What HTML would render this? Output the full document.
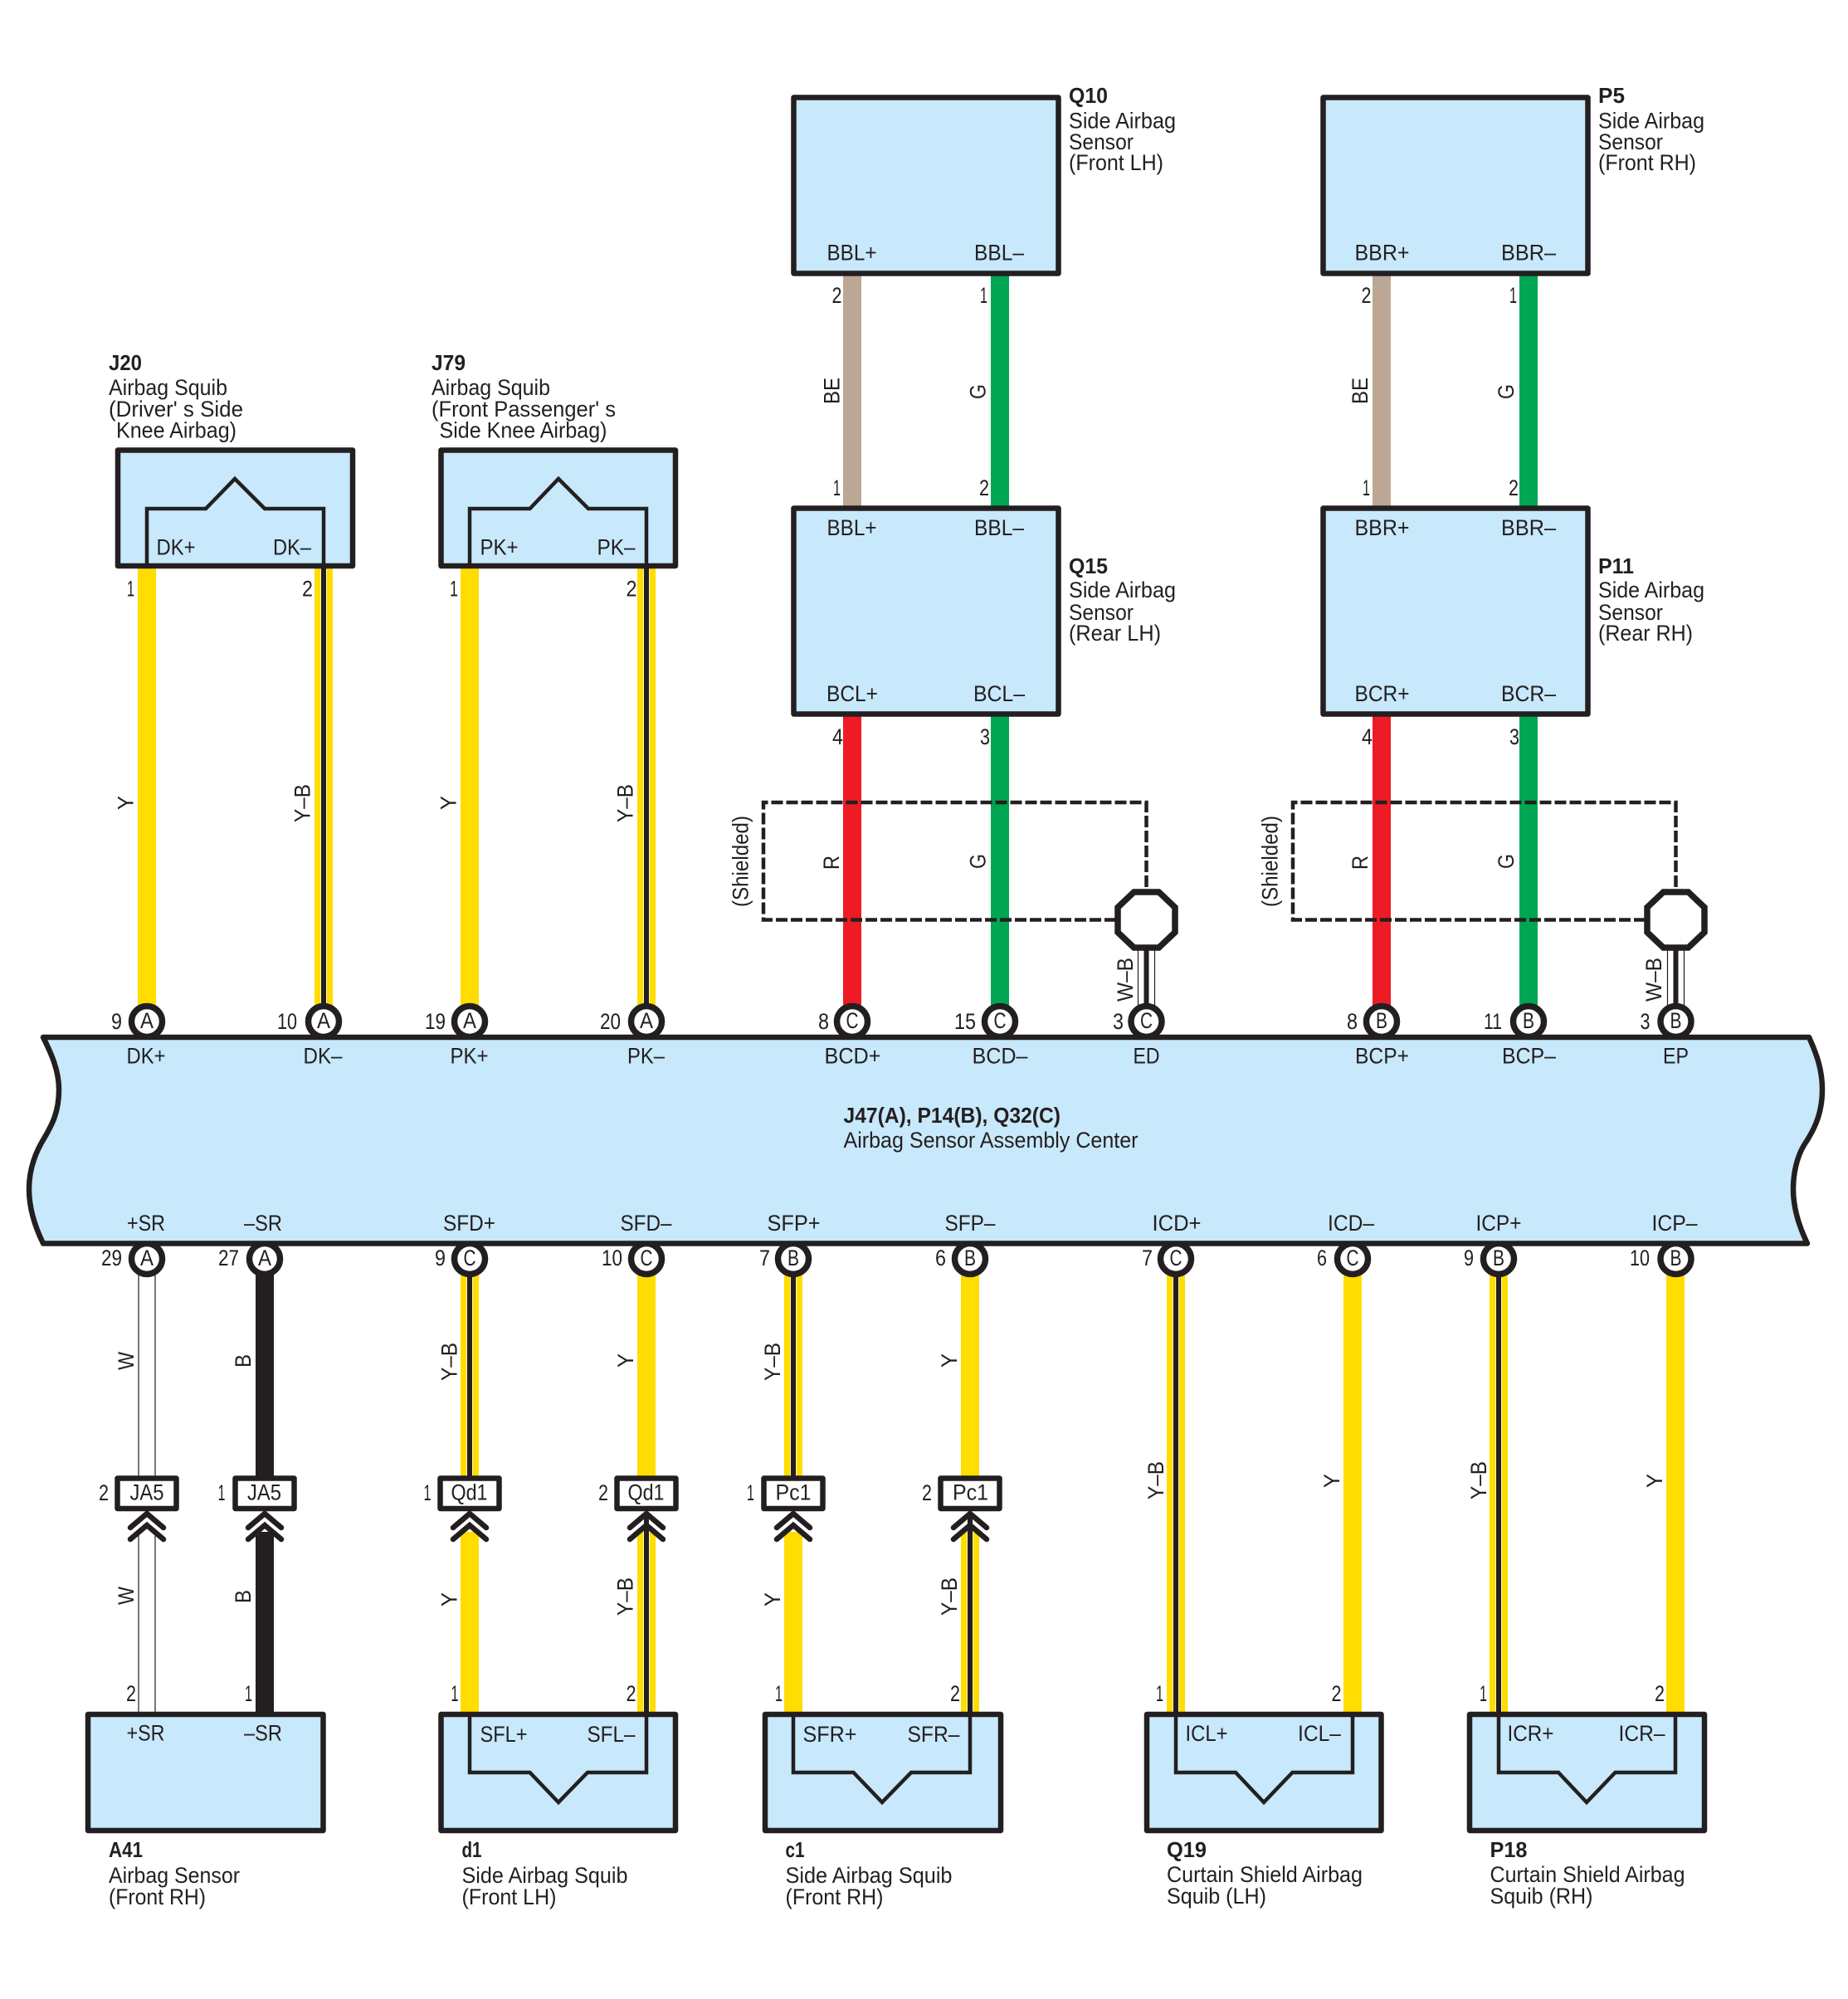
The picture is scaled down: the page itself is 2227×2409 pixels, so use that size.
<!DOCTYPE html>
<html><head><meta charset="utf-8"><title>Airbag wiring diagram</title>
<style>
html,body{margin:0;padding:0;background:#fff}
svg{display:block}
text{font-family:"Liberation Sans",sans-serif;font-size:27px;fill:#231f20}
.d{font-size:26.5px}
.b{font-size:26px;font-weight:bold}
.y{stroke:#ffdd00;stroke-width:22;fill:none}
.w{stroke:#fff;stroke-width:7.5;fill:none}
.k{stroke:#231f20;stroke-width:6;fill:none}
.kk{stroke:#231f20;stroke-width:22;fill:none}
.t{stroke:#231f20;stroke-width:1.2;fill:none}
.box{fill:#c8e8fb;stroke:#231f20;stroke-width:6.5;stroke-linejoin:round}
.in{fill:none;stroke:#231f20;stroke-width:4.5;stroke-linejoin:miter}
.c{fill:#fff;stroke:#231f20;stroke-width:7.5}
.cn{fill:#fff;stroke:#231f20;stroke-width:6.5;stroke-linejoin:round}
.ch{fill:none;stroke:#231f20;stroke-width:6.5;stroke-linecap:round;stroke-linejoin:miter}
.ds{fill:none;stroke:#231f20;stroke-width:4.5;stroke-dasharray:14 4}
</style></head><body>
<svg xmlns="http://www.w3.org/2000/svg" width="2227" height="2409" viewBox="0 0 2227 2409">
<rect width="2227" height="2409" fill="#fff"/>

<!-- upper wires -->
<path class="y" d="M177 680V1215M390 680V1215M566 680V1215M779 680V1215"/>
<path class="w" d="M390 686V1215M779 686V1215"/>
<path class="k" d="M390 680V1215M779 680V1215"/>
<path d="M1027 330V612M1665 330V612" stroke="#bba794" stroke-width="22" fill="none"/>
<path d="M1205 330V612M1842 330V612M1205 860V1215M1842 860V1215" stroke="#00a651" stroke-width="22" fill="none"/>
<path d="M1027 860V1215M1665 860V1215" stroke="#ed1c24" stroke-width="22" fill="none"/>
<!-- W-B shield drains -->
<path class="t" d="M1371.5 1140V1212M1391.5 1140V1212M2009.5 1140V1212M2029.5 1140V1212"/>
<path class="k" d="M1381.5 1140V1212M2019.5 1140V1212"/>

<!-- lower wires -->
<path class="t" d="M167 1530V1785M187 1530V1785M167 1850V2063M187 1850V2063"/>
<path class="kk" d="M319 1530V1785M319 1846V2063"/>
<path class="y" d="M566 1530V1785M566 1846V2063M779 1530V1785M779 1846V2063M956 1530V1785M956 1846V2063M1169 1530V1785M1169 1846V2063M1417 1530V2063M1630 1530V2063M1806 1530V2063M2019 1530V2063"/>
<path class="w" d="M566 1530V1785M779 1846V2063M956 1530V1785M1169 1846V2063M1417 1530V2063M1806 1530V2063"/>
<path class="k" d="M566 1530V1785M779 1826V2063M956 1530V1785M1169 1826V2063M1417 1530V2063M1806 1530V2063"/>

<!-- circles -->
<g class="c">
<circle class="c" cx="177" cy="1231" r="18.5"/><circle class="c" cx="390" cy="1231" r="18.5"/><circle class="c" cx="566" cy="1231" r="18.5"/><circle class="c" cx="779" cy="1231" r="18.5"/>
<circle class="c" cx="1027" cy="1231" r="18.5"/><circle class="c" cx="1205" cy="1231" r="18.5"/><circle class="c" cx="1381.5" cy="1231" r="18.5"/>
<circle class="c" cx="1665" cy="1231" r="18.5"/><circle class="c" cx="1842" cy="1231" r="18.5"/><circle class="c" cx="2019.5" cy="1231" r="18.5"/>
<circle class="c" cx="177" cy="1517" r="18.5"/><circle class="c" cx="319" cy="1517" r="18.5"/><circle class="c" cx="566" cy="1517" r="18.5"/><circle class="c" cx="779" cy="1517" r="18.5"/>
<circle class="c" cx="956" cy="1517" r="18.5"/><circle class="c" cx="1169" cy="1517" r="18.5"/><circle class="c" cx="1417" cy="1517" r="18.5"/><circle class="c" cx="1630" cy="1517" r="18.5"/>
<circle class="c" cx="1806" cy="1517" r="18.5"/><circle class="c" cx="2019.5" cy="1517" r="18.5"/>
</g>

<!-- central body -->
<path class="box" d="M52 1250L2180 1250C2190 1272 2196 1290 2196 1313C2196 1345 2184 1365 2174 1380C2165 1395 2161 1415 2161 1433C2161 1455 2168 1478 2178 1498.5L52 1498.5C42 1478 35 1455 35 1433C35 1405 45 1385 53 1372C63 1355 71 1340 71 1313C71 1290 62 1270 52 1250Z"/>

<!-- top boxes -->
<rect class="box" x="956.5" y="117.5" width="319" height="212"/>
<rect class="box" x="956.5" y="612.5" width="319" height="248"/>
<rect class="box" x="1594.5" y="117.5" width="319" height="212"/>
<rect class="box" x="1594.5" y="612.5" width="319" height="248"/>

<!-- knee squib boxes -->
<rect class="box" x="142" y="542.5" width="283" height="139.5"/>
<path class="in" d="M177 682V613H248L283 577L319 613H390V682"/>
<rect class="box" x="531.5" y="542.5" width="282.5" height="139.5"/>
<path class="in" d="M566 682V613H638.5L673 577L709 613H779V682"/>

<!-- bottom boxes -->
<rect class="box" x="106" y="2066" width="283.5" height="140"/>
<rect class="box" x="531.5" y="2066" width="282.5" height="140"/>
<path class="in" d="M566 2066V2136H638.5L673 2172L708 2136H779V2066"/>
<rect class="box" x="922" y="2066" width="284" height="140"/>
<path class="in" d="M956 2066V2136H1028.5L1063 2172L1098 2136H1169V2066"/>
<rect class="box" x="1382" y="2066" width="282.5" height="140"/>
<path class="in" d="M1417 2066V2136H1489L1523 2172L1557.5 2136H1630V2066"/>
<rect class="box" x="1771" y="2066" width="283" height="140"/>
<path class="in" d="M1806 2066V2136H1878L1912 2172L1946.5 2136H2019V2066"/>

<!-- shields -->
<path class="ds" d="M1345 1108.5H920V967H1381.5V1075"/>
<path class="ds" d="M1983 1108.5H1558V967H2019.5V1075"/>
<path class="c" d="M1366.5 1075H1396.5L1416 1093.5V1123.5L1396.5 1142H1366.5L1347 1123.5V1093.5Z"/>
<path class="c" d="M2004.5 1075H2034.5L2054 1093.5V1123.5L2034.5 1142H2004.5L1985 1123.5V1093.5Z"/>

<!-- inline connectors -->
<rect class="cn" x="141.5" y="1781.5" width="71" height="36.5"/>
<rect class="cn" x="283.5" y="1781.5" width="71" height="36.5"/>
<rect class="cn" x="530.5" y="1781.5" width="71" height="36.5"/>
<rect class="cn" x="743.5" y="1781.5" width="71" height="36.5"/>
<rect class="cn" x="920.5" y="1781.5" width="71" height="36.5"/>
<rect class="cn" x="1133.5" y="1781.5" width="71" height="36.5"/>
<path class="ch" d="M157 1841L177 1824L197 1841M157 1855L177 1838L197 1855M299 1841L319 1824L339 1841M299 1855L319 1838L339 1855M546 1841L566 1824L586 1841M546 1855L566 1838L586 1855M759 1841L779 1824L799 1841M759 1855L779 1838L799 1855M936 1841L956 1824L976 1841M936 1855L956 1838L976 1855M1149 1841L1169 1824L1189 1841M1149 1855L1169 1838L1189 1855"/>

<!-- component titles -->
<text class="b" x="131" y="446" textLength="40" lengthAdjust="spacingAndGlyphs">J20</text>
<text class="d" x="131" y="476" textLength="143" lengthAdjust="spacingAndGlyphs">Airbag Squib</text>
<text class="d" x="131" y="502" textLength="162" lengthAdjust="spacingAndGlyphs">(Driver' s Side</text>
<text class="d" x="140" y="527.5" textLength="145" lengthAdjust="spacingAndGlyphs">Knee Airbag)</text>
<text class="b" x="520" y="446" textLength="41" lengthAdjust="spacingAndGlyphs">J79</text>
<text class="d" x="520" y="476" textLength="143" lengthAdjust="spacingAndGlyphs">Airbag Squib</text>
<text class="d" x="520" y="502" textLength="222" lengthAdjust="spacingAndGlyphs">(Front Passenger' s</text>
<text class="d" x="529.5" y="527.5" textLength="202" lengthAdjust="spacingAndGlyphs">Side Knee Airbag)</text>

<text class="b" x="1288" y="124" textLength="47" lengthAdjust="spacingAndGlyphs">Q10</text>
<text class="d" x="1288" y="154.5" textLength="129" lengthAdjust="spacingAndGlyphs">Side Airbag</text>
<text class="d" x="1288" y="180" textLength="78" lengthAdjust="spacingAndGlyphs">Sensor</text>
<text class="d" x="1288" y="205" textLength="114" lengthAdjust="spacingAndGlyphs">(Front LH)</text>
<text class="b" x="1288" y="691" textLength="47" lengthAdjust="spacingAndGlyphs">Q15</text>
<text class="d" x="1288" y="720" textLength="129" lengthAdjust="spacingAndGlyphs">Side Airbag</text>
<text class="d" x="1288" y="747" textLength="78" lengthAdjust="spacingAndGlyphs">Sensor</text>
<text class="d" x="1288" y="772" textLength="111" lengthAdjust="spacingAndGlyphs">(Rear LH)</text>

<text class="b" x="1926" y="124" textLength="32" lengthAdjust="spacingAndGlyphs">P5</text>
<text class="d" x="1926" y="154.5" textLength="128" lengthAdjust="spacingAndGlyphs">Side Airbag</text>
<text class="d" x="1926" y="180" textLength="78" lengthAdjust="spacingAndGlyphs">Sensor</text>
<text class="d" x="1926" y="205" textLength="118" lengthAdjust="spacingAndGlyphs">(Front RH)</text>
<text class="b" x="1926" y="691" textLength="43" lengthAdjust="spacingAndGlyphs">P11</text>
<text class="d" x="1926" y="720" textLength="128" lengthAdjust="spacingAndGlyphs">Side Airbag</text>
<text class="d" x="1926" y="747" textLength="78" lengthAdjust="spacingAndGlyphs">Sensor</text>
<text class="d" x="1926" y="772" textLength="114" lengthAdjust="spacingAndGlyphs">(Rear RH)</text>

<text class="b" x="1016.5" y="1353" textLength="261.5" lengthAdjust="spacingAndGlyphs">J47(A), P14(B), Q32(C)</text>
<text class="d" x="1016.5" y="1383" textLength="355" lengthAdjust="spacingAndGlyphs">Airbag Sensor Assembly Center</text>

<text class="b" x="131" y="2238" textLength="41" lengthAdjust="spacingAndGlyphs">A41</text>
<text class="d" x="131" y="2269" textLength="158" lengthAdjust="spacingAndGlyphs">Airbag Sensor</text>
<text class="d" x="131" y="2295" textLength="117" lengthAdjust="spacingAndGlyphs">(Front RH)</text>
<text class="b" x="556.5" y="2238" textLength="24" lengthAdjust="spacingAndGlyphs">d1</text>
<text class="d" x="556.5" y="2269" textLength="200" lengthAdjust="spacingAndGlyphs">Side Airbag Squib</text>
<text class="d" x="556.5" y="2295" textLength="114" lengthAdjust="spacingAndGlyphs">(Front LH)</text>
<text class="b" x="946.5" y="2238" textLength="23" lengthAdjust="spacingAndGlyphs">c1</text>
<text class="d" x="946.5" y="2269" textLength="201" lengthAdjust="spacingAndGlyphs">Side Airbag Squib</text>
<text class="d" x="946.5" y="2295" textLength="118" lengthAdjust="spacingAndGlyphs">(Front RH)</text>
<text class="b" x="1406" y="2238" textLength="48" lengthAdjust="spacingAndGlyphs">Q19</text>
<text class="d" x="1406" y="2268" textLength="236" lengthAdjust="spacingAndGlyphs">Curtain Shield Airbag</text>
<text class="d" x="1406" y="2294" textLength="120" lengthAdjust="spacingAndGlyphs">Squib (LH)</text>
<text class="b" x="1795.5" y="2238" textLength="45" lengthAdjust="spacingAndGlyphs">P18</text>
<text class="d" x="1795.5" y="2268" textLength="235" lengthAdjust="spacingAndGlyphs">Curtain Shield Airbag</text>
<text class="d" x="1795.5" y="2294" textLength="124" lengthAdjust="spacingAndGlyphs">Squib (RH)</text>

<!-- terminal names in boxes -->
<text x="188.5" y="668.5" textLength="47" lengthAdjust="spacingAndGlyphs">DK+</text>
<text x="329" y="668.5" textLength="46" lengthAdjust="spacingAndGlyphs">DK–</text>
<text x="578.5" y="668.5" textLength="46" lengthAdjust="spacingAndGlyphs">PK+</text>
<text x="719.5" y="668.5" textLength="46" lengthAdjust="spacingAndGlyphs">PK–</text>
<text x="996.5" y="313.5" textLength="60" lengthAdjust="spacingAndGlyphs">BBL+</text>
<text x="1174" y="313.5" textLength="60" lengthAdjust="spacingAndGlyphs">BBL–</text>
<text x="996.5" y="645" textLength="60" lengthAdjust="spacingAndGlyphs">BBL+</text>
<text x="1174" y="645" textLength="60" lengthAdjust="spacingAndGlyphs">BBL–</text>
<text x="996" y="845" textLength="62" lengthAdjust="spacingAndGlyphs">BCL+</text>
<text x="1173" y="845" textLength="62" lengthAdjust="spacingAndGlyphs">BCL–</text>
<text x="1632.5" y="313.5" textLength="66" lengthAdjust="spacingAndGlyphs">BBR+</text>
<text x="1809" y="313.5" textLength="66" lengthAdjust="spacingAndGlyphs">BBR–</text>
<text x="1632.5" y="645" textLength="66" lengthAdjust="spacingAndGlyphs">BBR+</text>
<text x="1809" y="645" textLength="66" lengthAdjust="spacingAndGlyphs">BBR–</text>
<text x="1632.5" y="845" textLength="66" lengthAdjust="spacingAndGlyphs">BCR+</text>
<text x="1809" y="845" textLength="66" lengthAdjust="spacingAndGlyphs">BCR–</text>

<!-- body terminal names -->
<text x="152.5" y="1281.5" textLength="47" lengthAdjust="spacingAndGlyphs">DK+</text>
<text x="365.5" y="1281.5" textLength="47" lengthAdjust="spacingAndGlyphs">DK–</text>
<text x="542.5" y="1281.5" textLength="46" lengthAdjust="spacingAndGlyphs">PK+</text>
<text x="756" y="1281.5" textLength="45" lengthAdjust="spacingAndGlyphs">PK–</text>
<text x="993.5" y="1281.5" textLength="68" lengthAdjust="spacingAndGlyphs">BCD+</text>
<text x="1171.5" y="1281.5" textLength="67" lengthAdjust="spacingAndGlyphs">BCD–</text>
<text x="1365.5" y="1281.5" textLength="32" lengthAdjust="spacingAndGlyphs">ED</text>
<text x="1633" y="1281.5" textLength="65" lengthAdjust="spacingAndGlyphs">BCP+</text>
<text x="1810" y="1281.5" textLength="65" lengthAdjust="spacingAndGlyphs">BCP–</text>
<text x="2004" y="1281.5" textLength="31" lengthAdjust="spacingAndGlyphs">EP</text>

<text x="153" y="1483" textLength="46" lengthAdjust="spacingAndGlyphs">+SR</text>
<text x="294" y="1483" textLength="46" lengthAdjust="spacingAndGlyphs">–SR</text>
<text x="534" y="1483" textLength="63" lengthAdjust="spacingAndGlyphs">SFD+</text>
<text x="747.5" y="1483" textLength="62" lengthAdjust="spacingAndGlyphs">SFD–</text>
<text x="924.5" y="1483" textLength="64" lengthAdjust="spacingAndGlyphs">SFP+</text>
<text x="1138.5" y="1483" textLength="61" lengthAdjust="spacingAndGlyphs">SFP–</text>
<text x="1388.5" y="1483" textLength="59" lengthAdjust="spacingAndGlyphs">ICD+</text>
<text x="1600" y="1483" textLength="56" lengthAdjust="spacingAndGlyphs">ICD–</text>
<text x="1778.5" y="1483" textLength="55" lengthAdjust="spacingAndGlyphs">ICP+</text>
<text x="1990.5" y="1483" textLength="55" lengthAdjust="spacingAndGlyphs">ICP–</text>

<!-- bottom box terminal names -->
<text x="152.5" y="2097.5" textLength="46" lengthAdjust="spacingAndGlyphs">+SR</text>
<text x="294" y="2097.5" textLength="46" lengthAdjust="spacingAndGlyphs">–SR</text>
<text x="578.5" y="2099" textLength="57" lengthAdjust="spacingAndGlyphs">SFL+</text>
<text x="707.5" y="2099" textLength="58" lengthAdjust="spacingAndGlyphs">SFL–</text>
<text x="967.5" y="2099" textLength="65" lengthAdjust="spacingAndGlyphs">SFR+</text>
<text x="1093.5" y="2099" textLength="63" lengthAdjust="spacingAndGlyphs">SFR–</text>
<text x="1428.5" y="2098" textLength="51" lengthAdjust="spacingAndGlyphs">ICL+</text>
<text x="1564" y="2098" textLength="52" lengthAdjust="spacingAndGlyphs">ICL–</text>
<text x="1816.5" y="2098" textLength="56" lengthAdjust="spacingAndGlyphs">ICR+</text>
<text x="1950.5" y="2098" textLength="56" lengthAdjust="spacingAndGlyphs">ICR–</text>

<!-- connector letters -->
<text x="169" y="1239" textLength="16" lengthAdjust="spacingAndGlyphs">A</text>
<text x="382" y="1239" textLength="16" lengthAdjust="spacingAndGlyphs">A</text>
<text x="558" y="1239" textLength="16" lengthAdjust="spacingAndGlyphs">A</text>
<text x="771" y="1239" textLength="16" lengthAdjust="spacingAndGlyphs">A</text>
<text x="1019.5" y="1239" textLength="15" lengthAdjust="spacingAndGlyphs">C</text>
<text x="1197.5" y="1239" textLength="15" lengthAdjust="spacingAndGlyphs">C</text>
<text x="1374" y="1239" textLength="15" lengthAdjust="spacingAndGlyphs">C</text>
<text x="1658" y="1239" textLength="14" lengthAdjust="spacingAndGlyphs">B</text>
<text x="1835" y="1239" textLength="14" lengthAdjust="spacingAndGlyphs">B</text>
<text x="2012.5" y="1239" textLength="14" lengthAdjust="spacingAndGlyphs">B</text>
<text x="169" y="1525" textLength="16" lengthAdjust="spacingAndGlyphs">A</text>
<text x="311" y="1525" textLength="16" lengthAdjust="spacingAndGlyphs">A</text>
<text x="558.5" y="1525" textLength="15" lengthAdjust="spacingAndGlyphs">C</text>
<text x="771.5" y="1525" textLength="15" lengthAdjust="spacingAndGlyphs">C</text>
<text x="949" y="1525" textLength="14" lengthAdjust="spacingAndGlyphs">B</text>
<text x="1162" y="1525" textLength="14" lengthAdjust="spacingAndGlyphs">B</text>
<text x="1409.5" y="1525" textLength="15" lengthAdjust="spacingAndGlyphs">C</text>
<text x="1622.5" y="1525" textLength="15" lengthAdjust="spacingAndGlyphs">C</text>
<text x="1799" y="1525" textLength="14" lengthAdjust="spacingAndGlyphs">B</text>
<text x="2012.5" y="1525" textLength="14" lengthAdjust="spacingAndGlyphs">B</text>

<!-- pin numbers near upper circles -->
<text x="134" y="1240" textLength="13" lengthAdjust="spacingAndGlyphs">9</text>
<text x="334" y="1240" textLength="24" lengthAdjust="spacingAndGlyphs">10</text>
<text x="512" y="1240" textLength="25" lengthAdjust="spacingAndGlyphs">19</text>
<text x="723" y="1240" textLength="25" lengthAdjust="spacingAndGlyphs">20</text>
<text x="986" y="1240" textLength="13" lengthAdjust="spacingAndGlyphs">8</text>
<text x="1150" y="1240" textLength="26" lengthAdjust="spacingAndGlyphs">15</text>
<text x="1341" y="1240" textLength="13" lengthAdjust="spacingAndGlyphs">3</text>
<text x="1623" y="1240" textLength="13" lengthAdjust="spacingAndGlyphs">8</text>
<text x="1788" y="1240" textLength="22" lengthAdjust="spacingAndGlyphs">11</text>
<text x="1976.5" y="1240" textLength="12" lengthAdjust="spacingAndGlyphs">3</text>

<!-- pin numbers near lower circles -->
<text x="122" y="1525" textLength="25" lengthAdjust="spacingAndGlyphs">29</text>
<text x="263" y="1525" textLength="25" lengthAdjust="spacingAndGlyphs">27</text>
<text x="524" y="1525" textLength="13" lengthAdjust="spacingAndGlyphs">9</text>
<text x="725" y="1525" textLength="25" lengthAdjust="spacingAndGlyphs">10</text>
<text x="915" y="1525" textLength="13" lengthAdjust="spacingAndGlyphs">7</text>
<text x="1127" y="1525" textLength="13" lengthAdjust="spacingAndGlyphs">6</text>
<text x="1376" y="1525" textLength="13" lengthAdjust="spacingAndGlyphs">7</text>
<text x="1587" y="1525" textLength="12" lengthAdjust="spacingAndGlyphs">6</text>
<text x="1764" y="1525" textLength="12" lengthAdjust="spacingAndGlyphs">9</text>
<text x="1964" y="1525" textLength="24" lengthAdjust="spacingAndGlyphs">10</text>

<!-- pin numbers on components -->
<text x="153" y="718.5" textLength="9" lengthAdjust="spacingAndGlyphs">1</text>
<text x="364" y="718.5" textLength="13" lengthAdjust="spacingAndGlyphs">2</text>
<text x="542" y="718.5" textLength="10" lengthAdjust="spacingAndGlyphs">1</text>
<text x="754.5" y="718.5" textLength="13" lengthAdjust="spacingAndGlyphs">2</text>
<text x="1002.5" y="365" textLength="12" lengthAdjust="spacingAndGlyphs">2</text>
<text x="1181" y="365" textLength="9" lengthAdjust="spacingAndGlyphs">1</text>
<text x="1004" y="597" textLength="9" lengthAdjust="spacingAndGlyphs">1</text>
<text x="1180" y="597" textLength="12" lengthAdjust="spacingAndGlyphs">2</text>
<text x="1003" y="897" textLength="13" lengthAdjust="spacingAndGlyphs">4</text>
<text x="1181" y="897" textLength="12" lengthAdjust="spacingAndGlyphs">3</text>
<text x="1640.5" y="365" textLength="12" lengthAdjust="spacingAndGlyphs">2</text>
<text x="1819" y="365" textLength="9" lengthAdjust="spacingAndGlyphs">1</text>
<text x="1642" y="597" textLength="9" lengthAdjust="spacingAndGlyphs">1</text>
<text x="1818" y="597" textLength="12" lengthAdjust="spacingAndGlyphs">2</text>
<text x="1641" y="897" textLength="13" lengthAdjust="spacingAndGlyphs">4</text>
<text x="1819" y="897" textLength="12" lengthAdjust="spacingAndGlyphs">3</text>

<text x="119" y="1808" textLength="12" lengthAdjust="spacingAndGlyphs">2</text>
<text x="262.5" y="1808" textLength="9" lengthAdjust="spacingAndGlyphs">1</text>
<text x="510.5" y="1808" textLength="9" lengthAdjust="spacingAndGlyphs">1</text>
<text x="721" y="1808" textLength="12" lengthAdjust="spacingAndGlyphs">2</text>
<text x="900" y="1808" textLength="9" lengthAdjust="spacingAndGlyphs">1</text>
<text x="1111" y="1808" textLength="12" lengthAdjust="spacingAndGlyphs">2</text>

<text x="156.5" y="1807.5" textLength="41" lengthAdjust="spacingAndGlyphs">JA5</text>
<text x="298" y="1807.5" textLength="41" lengthAdjust="spacingAndGlyphs">JA5</text>
<text x="543.5" y="1807.5" textLength="44" lengthAdjust="spacingAndGlyphs">Qd1</text>
<text x="756.5" y="1807.5" textLength="44" lengthAdjust="spacingAndGlyphs">Qd1</text>
<text x="934.5" y="1807.5" textLength="43" lengthAdjust="spacingAndGlyphs">Pc1</text>
<text x="1148" y="1807.5" textLength="43" lengthAdjust="spacingAndGlyphs">Pc1</text>

<text x="152" y="2050" textLength="12" lengthAdjust="spacingAndGlyphs">2</text>
<text x="295" y="2050" textLength="9" lengthAdjust="spacingAndGlyphs">1</text>
<text x="543.5" y="2050" textLength="9" lengthAdjust="spacingAndGlyphs">1</text>
<text x="754.5" y="2050" textLength="12" lengthAdjust="spacingAndGlyphs">2</text>
<text x="934" y="2050" textLength="9" lengthAdjust="spacingAndGlyphs">1</text>
<text x="1145" y="2050" textLength="12" lengthAdjust="spacingAndGlyphs">2</text>
<text x="1393" y="2050" textLength="9" lengthAdjust="spacingAndGlyphs">1</text>
<text x="1604.5" y="2050" textLength="12" lengthAdjust="spacingAndGlyphs">2</text>
<text x="1783" y="2050" textLength="9" lengthAdjust="spacingAndGlyphs">1</text>
<text x="1994" y="2050" textLength="12" lengthAdjust="spacingAndGlyphs">2</text>

<!-- rotated wire labels -->
<text transform="translate(160.5 976) rotate(-90)" textLength="17" lengthAdjust="spacingAndGlyphs">Y</text>
<text transform="translate(373.5 991) rotate(-90)" textLength="46" lengthAdjust="spacingAndGlyphs">Y–B</text>
<text transform="translate(549.5 976) rotate(-90)" textLength="17" lengthAdjust="spacingAndGlyphs">Y</text>
<text transform="translate(762.5 991) rotate(-90)" textLength="46" lengthAdjust="spacingAndGlyphs">Y–B</text>
<text transform="translate(1011.5 487) rotate(-90)" textLength="32" lengthAdjust="spacingAndGlyphs">BE</text>
<text transform="translate(1187.5 481) rotate(-90)" textLength="18" lengthAdjust="spacingAndGlyphs">G</text>
<text transform="translate(1648 487) rotate(-90)" textLength="32" lengthAdjust="spacingAndGlyphs">BE</text>
<text transform="translate(1824 481) rotate(-90)" textLength="18" lengthAdjust="spacingAndGlyphs">G</text>
<text transform="translate(1011 1048) rotate(-90)" textLength="17" lengthAdjust="spacingAndGlyphs">R</text>
<text transform="translate(1187.5 1047) rotate(-90)" textLength="18" lengthAdjust="spacingAndGlyphs">G</text>
<text transform="translate(1648 1048) rotate(-90)" textLength="17" lengthAdjust="spacingAndGlyphs">R</text>
<text transform="translate(1824 1047) rotate(-90)" textLength="18" lengthAdjust="spacingAndGlyphs">G</text>
<text transform="translate(901.5 1093) rotate(-90)" textLength="110" lengthAdjust="spacingAndGlyphs">(Shielded)</text>
<text transform="translate(1539.5 1093) rotate(-90)" textLength="110" lengthAdjust="spacingAndGlyphs">(Shielded)</text>
<text transform="translate(1365 1207) rotate(-90)" textLength="53" lengthAdjust="spacingAndGlyphs">W–B</text>
<text transform="translate(2002 1207) rotate(-90)" textLength="53" lengthAdjust="spacingAndGlyphs">W–B</text>

<text transform="translate(161 1651) rotate(-90)" textLength="22" lengthAdjust="spacingAndGlyphs">W</text>
<text transform="translate(161 1934) rotate(-90)" textLength="22" lengthAdjust="spacingAndGlyphs">W</text>
<text transform="translate(302 1648) rotate(-90)" textLength="16" lengthAdjust="spacingAndGlyphs">B</text>
<text transform="translate(302 1932) rotate(-90)" textLength="16" lengthAdjust="spacingAndGlyphs">B</text>
<text transform="translate(550.5 1664) rotate(-90)" textLength="46" lengthAdjust="spacingAndGlyphs">Y–B</text>
<text transform="translate(550.5 1936) rotate(-90)" textLength="17" lengthAdjust="spacingAndGlyphs">Y</text>
<text transform="translate(763 1648) rotate(-90)" textLength="17" lengthAdjust="spacingAndGlyphs">Y</text>
<text transform="translate(762.5 1947) rotate(-90)" textLength="46" lengthAdjust="spacingAndGlyphs">Y–B</text>
<text transform="translate(940 1664) rotate(-90)" textLength="46" lengthAdjust="spacingAndGlyphs">Y–B</text>
<text transform="translate(940 1936) rotate(-90)" textLength="17" lengthAdjust="spacingAndGlyphs">Y</text>
<text transform="translate(1153 1648) rotate(-90)" textLength="17" lengthAdjust="spacingAndGlyphs">Y</text>
<text transform="translate(1153 1947) rotate(-90)" textLength="46" lengthAdjust="spacingAndGlyphs">Y–B</text>
<text transform="translate(1402 1807) rotate(-90)" textLength="46" lengthAdjust="spacingAndGlyphs">Y–B</text>
<text transform="translate(1614 1793) rotate(-90)" textLength="17" lengthAdjust="spacingAndGlyphs">Y</text>
<text transform="translate(1791 1807) rotate(-90)" textLength="46" lengthAdjust="spacingAndGlyphs">Y–B</text>
<text transform="translate(2003 1793) rotate(-90)" textLength="17" lengthAdjust="spacingAndGlyphs">Y</text>
</svg>
</body></html>
